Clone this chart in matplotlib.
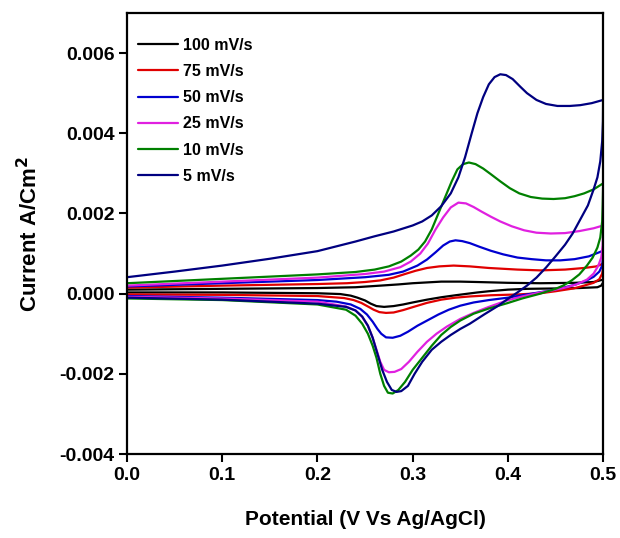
import matplotlib
matplotlib.use("Agg")
import matplotlib.pyplot as plt
import matplotlib.ticker as ticker

plt.rcParams.update({
    "font.family": ["Liberation Sans", "DejaVu Sans"],
    "font.weight": "bold",
    "mathtext.default": "bf",
})

# --- Data (potential V, current A/cm2), forward then reverse scan ---
v_100 = [0, 0.1, 0.2, 0.24, 0.266, 0.285, 0.3, 0.315, 0.33, 0.35, 0.368, 0.4, 0.434, 0.47, 0.49, 0.5,
         0.5, 0.498, 0.494, 0.475, 0.452, 0.42, 0.4, 0.38, 0.368, 0.345, 0.33, 0.315, 0.3, 0.29,
         0.28, 0.27, 0.262, 0.256, 0.25, 0.242, 0.235, 0.224, 0.2, 0.1, 0]
i_100 = [0.0001, 0.00012, 0.00014, 0.00016, 0.0002, 0.00023, 0.00026, 0.00028, 0.0003, 0.0003,
         0.00029, 0.00027, 0.00026, 0.00027, 0.00029, 0.00035,
         0.00028, 0.0002, 0.00016, 0.00014, 0.00013, 0.00012, 0.0001, 0.00006, 0.00003, -0.00004,
         -0.00009, -0.00015, -0.00022, -0.00027, -0.00031, -0.00033, -0.00031, -0.00025, -0.00017,
         -0.0001, -0.00005, -0.00001, 0.00001, 0.00003, 0.00003]

v_75 = [0, 0.1, 0.2, 0.231, 0.25, 0.266, 0.28, 0.292, 0.303, 0.315, 0.328, 0.343, 0.36, 0.38,
        0.41, 0.434, 0.46, 0.48, 0.493, 0.5,
        0.5, 0.499, 0.496, 0.49, 0.48, 0.469, 0.45, 0.434, 0.41, 0.382, 0.36, 0.345, 0.33, 0.315,
        0.301, 0.29, 0.28, 0.272, 0.265, 0.259, 0.253, 0.246, 0.238, 0.228, 0.2, 0.1, 0]
i_75 = [0.00015, 0.0002, 0.00024, 0.00026, 0.00029, 0.00033, 0.0004, 0.00049, 0.00057, 0.00064,
        0.00068, 0.0007, 0.00068, 0.00064, 0.0006, 0.00058, 0.0006, 0.00064, 0.00068, 0.00075,
        0.00065, 0.0005, 0.00036, 0.00027, 0.0002, 0.00013, 0.00006, 0.00001, -0.00002, -0.00004,
        -0.00007, -0.0001, -0.00015, -0.00023, -0.00033, -0.00041, -0.00047, -0.00048, -0.00046,
        -0.0004, -0.00032, -0.00023, -0.00016, -0.00011, -0.00006, -0.00003, -0.00002]

v_50 = [0, 0.1, 0.2, 0.25, 0.275, 0.29, 0.305, 0.315, 0.324, 0.332, 0.339, 0.345, 0.352, 0.36,
        0.37, 0.382, 0.395, 0.41, 0.425, 0.44, 0.455, 0.47, 0.485, 0.5,
        0.5, 0.499, 0.496, 0.49, 0.482, 0.47, 0.455, 0.44, 0.42, 0.4, 0.38, 0.364, 0.35, 0.338,
        0.327, 0.316, 0.305, 0.295, 0.287, 0.279, 0.272, 0.267, 0.263, 0.258, 0.252, 0.245, 0.235,
        0.22, 0.2, 0.1, 0]
i_50 = [0.00018, 0.00026, 0.00034, 0.00041, 0.00047, 0.00055, 0.0007, 0.00085, 0.00103, 0.0012,
        0.0013, 0.00133, 0.00131, 0.00126, 0.00117, 0.00107, 0.00098, 0.0009, 0.00086, 0.00083,
        0.00083, 0.00086, 0.00093, 0.00107,
        0.00095, 0.0007, 0.00055, 0.00042, 0.00032, 0.00022, 0.00013, 0.00006, -0.00002, -0.0001,
        -0.00016, -0.00022, -0.0003, -0.0004, -0.00052, -0.00066, -0.0008, -0.00095, -0.00105,
        -0.0011, -0.00109, -0.001, -0.00088, -0.0007, -0.00052, -0.00038, -0.00027, -0.0002,
        -0.00016, -0.0001, -0.00006]

v_25 = [0, 0.1, 0.2, 0.25, 0.27, 0.287, 0.298, 0.308, 0.316, 0.324, 0.332, 0.34, 0.348, 0.356,
        0.364, 0.372, 0.382, 0.392, 0.404, 0.417, 0.43, 0.445, 0.46, 0.475, 0.49, 0.5,
        0.5, 0.4995, 0.498, 0.495, 0.49, 0.483, 0.472, 0.462, 0.448, 0.434, 0.415, 0.399, 0.38,
        0.364, 0.35, 0.336, 0.325, 0.315, 0.305, 0.296, 0.288, 0.281, 0.275, 0.27, 0.266, 0.262,
        0.258, 0.253, 0.247, 0.24, 0.23, 0.2, 0.1, 0]
i_25 = [0.0002, 0.0003, 0.0004, 0.00049, 0.00055, 0.00066, 0.0008, 0.001, 0.00125, 0.0016,
        0.0019, 0.00215, 0.00227, 0.00225, 0.00216, 0.00205, 0.00192, 0.0018, 0.00168, 0.00158,
        0.00152, 0.0015, 0.00151, 0.00156, 0.00163, 0.0017,
        0.0016, 0.0012, 0.0009, 0.0007, 0.0005, 0.00035, 0.00023, 0.00016, 0.00009, 0.00003,
        -0.00007, -0.00017, -0.00033, -0.00048, -0.00063, -0.00082, -0.001, -0.0012, -0.00145,
        -0.0017, -0.00188, -0.00195, -0.00196, -0.0019, -0.0017, -0.0014, -0.0011, -0.0008,
        -0.00058, -0.00042, -0.00032, -0.0002, -0.00012, -0.00008]

v_10 = [0, 0.1, 0.2, 0.24, 0.26, 0.275, 0.288, 0.298, 0.306, 0.313, 0.32, 0.327, 0.334, 0.341,
        0.347, 0.353, 0.359, 0.366, 0.374, 0.382, 0.392, 0.402, 0.412, 0.424, 0.436, 0.448, 0.46,
        0.47, 0.48, 0.49, 0.5,
        0.5, 0.4995, 0.499, 0.497, 0.494, 0.489, 0.483, 0.475, 0.467, 0.458, 0.45, 0.434, 0.415,
        0.399, 0.38, 0.364, 0.35, 0.34, 0.33, 0.32, 0.31, 0.3, 0.292, 0.285, 0.279, 0.274, 0.27,
        0.266, 0.262, 0.258, 0.253, 0.247, 0.24, 0.23, 0.2, 0.1, 0]
i_10 = [0.00026, 0.00037, 0.00048, 0.00054, 0.0006, 0.00068, 0.0008, 0.00095, 0.0011, 0.0013,
        0.0016, 0.002, 0.0024, 0.0028, 0.0031, 0.00323, 0.00327, 0.00323, 0.00312, 0.00298,
        0.0028, 0.00263, 0.0025, 0.00241, 0.00237, 0.00236, 0.00238, 0.00243, 0.0025, 0.0026,
        0.00275,
        0.0027, 0.0022, 0.0018, 0.0014, 0.00115, 0.0009, 0.0007, 0.00048, 0.00033, 0.0002,
        0.00012, 0.0, -0.00012, -0.00024, -0.00037, -0.0005, -0.00067, -0.00083, -0.00103,
        -0.0013, -0.0016, -0.0019, -0.0022, -0.0024, -0.00249, -0.00247, -0.0023, -0.002, -0.0016,
        -0.0013, -0.001, -0.00075, -0.00055, -0.0004, -0.00027, -0.00016, -0.00012]

v_5 = [0, 0.05, 0.1, 0.15, 0.2, 0.22, 0.24, 0.26, 0.28, 0.3, 0.31, 0.32, 0.33, 0.34, 0.348,
       0.355, 0.362, 0.368, 0.374, 0.38, 0.386, 0.392, 0.398, 0.405, 0.413, 0.42, 0.43, 0.44,
       0.452, 0.465, 0.476, 0.488, 0.5,
       0.5, 0.4998, 0.499, 0.497, 0.494, 0.49, 0.484, 0.476, 0.468, 0.46, 0.45, 0.44, 0.43, 0.42,
       0.41, 0.4, 0.39, 0.375, 0.36, 0.35, 0.34, 0.33, 0.32, 0.31, 0.302, 0.295, 0.288, 0.283,
       0.278, 0.273, 0.268, 0.263, 0.258, 0.253, 0.247, 0.24, 0.23, 0.2, 0.1, 0]
i_5 = [0.00041, 0.00055, 0.0007, 0.00087, 0.00106, 0.00118, 0.0013, 0.00143, 0.00155, 0.0017,
       0.0018, 0.00195, 0.00218, 0.0025, 0.0029, 0.0034, 0.004, 0.0045, 0.0049, 0.00522, 0.0054,
       0.00547, 0.00545, 0.00535, 0.00516, 0.005, 0.00483, 0.00473, 0.00468, 0.00468, 0.0047,
       0.00475, 0.00483,
       0.00483, 0.0043, 0.0038, 0.0033, 0.0029, 0.0026, 0.0022, 0.00185, 0.0015, 0.00122,
       0.00093, 0.00065, 0.0004, 0.0002, 0.00003, -0.00013, -0.0003, -0.00052, -0.00075,
       -0.00088, -0.00103, -0.0012, -0.0014, -0.0017, -0.002, -0.0023, -0.00243, -0.00245,
       -0.0024, -0.0022, -0.0019, -0.0015, -0.0011, -0.0008, -0.00057, -0.00042, -0.00033,
       -0.00025, -0.00015, -0.0001]

labels = ["100 mV/s", "75 mV/s", "50 mV/s", "25 mV/s", "10 mV/s", "5 mV/s"]
colors = ["#000000", "#E00000", "#0000D0", "#E020E0", "#008000", "#000080"]
series = [(v_100, i_100), (v_75, i_75), (v_50, i_50), (v_25, i_25), (v_10, i_10), (v_5, i_5)]

fig = plt.figure(figsize=(6.2, 5.38), dpi=100)
ax = fig.add_axes([0.2048, 0.156, 0.768, 0.82])

for (v, i), label, color in zip(series, labels, colors):
    ax.plot(v, i, color=color, linewidth=1.6, label=label,
            solid_joinstyle="round", solid_capstyle="round")

ax.set_xlim(0, 0.5)
ax.set_ylim(-0.004, 0.007)
ax.set_xticks([0.0, 0.1, 0.2, 0.3, 0.4, 0.5])
ax.set_yticks([-0.004, -0.002, 0.0, 0.002, 0.004, 0.006])
ax.xaxis.set_major_formatter(ticker.FormatStrFormatter("%.1f"))
ax.yaxis.set_major_formatter(ticker.FormatStrFormatter("%.3f"))
ax.tick_params(direction="out", length=6, width=1.5, labelsize=14, pad=3)
for sp in ax.spines.values():
    sp.set_linewidth(1.6)

ax.set_xlabel("Potential (V Vs Ag/AgCl)", fontsize=15, fontweight="bold", labelpad=19)
ax.set_ylabel(r"Current A/Cm$^{\mathbf{2}}$", fontsize=16, fontweight="bold", labelpad=12)

leg = ax.legend(loc="upper left", bbox_to_anchor=(-0.006, 0.976), frameon=False,
                fontsize=11.5, handlelength=2.5, handletextpad=0.28, labelspacing=0.7,
                borderaxespad=0.5)
for t in leg.get_texts():
    t.set_fontweight("bold")

fig.savefig("out.png", dpi=100)
